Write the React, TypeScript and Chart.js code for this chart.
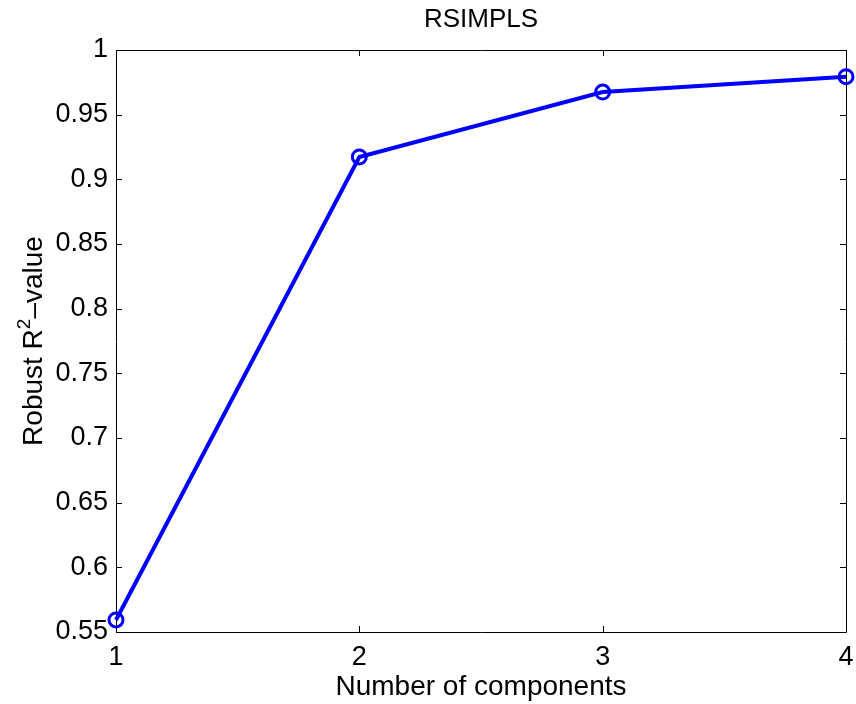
import React, { useEffect, useRef } from "react";
import { Chart, registerables } from "chart.js";

Chart.register(...registerables);

const components = [1, 2, 3, 4];
const robustR2 = [0.5593, 0.9173, 0.9675, 0.9794];
const yTicks = [0.55, 0.6, 0.65, 0.7, 0.75, 0.8, 0.85, 0.9, 0.95, 1];
const xTicks = [1, 2, 3, 4];
const titleText = "RSIMPLS";
const xLabel = "Number of components";
const yLabelMain = "Robust R";
const yLabelSup = "2";
const yLabelRest = "\u2013value";

const FONT = "'Liberation Sans', Arial, Helvetica, sans-serif";

const framePlugin = {
  id: "frame",
  beforeDatasetsDraw(chart: any) {
    const { ctx, chartArea: a, scales } = chart;
    const L = 6;
    ctx.save();
    ctx.strokeStyle = "#000";
    ctx.lineWidth = 1;
    ctx.beginPath();
    ctx.rect(Math.round(a.left) + 0.5, Math.round(a.top) + 0.5, Math.round(a.right - a.left), Math.round(a.bottom - a.top));
    ctx.stroke();
    ctx.beginPath();
    for (const v of yTicks) {
      const y = Math.round(scales.y.getPixelForValue(v)) + 0.5;
      ctx.moveTo(a.left, y);
      ctx.lineTo(a.left + L, y);
      ctx.moveTo(a.right, y);
      ctx.lineTo(a.right - L, y);
    }
    for (const v of xTicks) {
      const x = Math.round(scales.x.getPixelForValue(v)) + 0.5;
      ctx.moveTo(x, a.bottom);
      ctx.lineTo(x, a.bottom - L);
      ctx.moveTo(x, a.top);
      ctx.lineTo(x, a.top + L);
    }
    ctx.stroke();
    ctx.restore();
  },
  afterDraw(chart: any) {
    const { ctx, chartArea: a } = chart;
    ctx.save();
    ctx.fillStyle = "#000";
    ctx.font = `26px ${FONT}`;
    ctx.textAlign = "center";
    ctx.textBaseline = "alphabetic";
    ctx.fillText(titleText, (a.left + a.right) / 2, 27);
    ctx.font = `28px ${FONT}`;
    ctx.fillText(xLabel, (a.left + a.right) / 2, 695);
    ctx.translate(42, (a.top + a.bottom) / 2);
    ctx.rotate(-Math.PI / 2);
    ctx.font = `28px ${FONT}`;
    const w1 = ctx.measureText(yLabelMain).width;
    ctx.font = `19px ${FONT}`;
    const w2 = ctx.measureText(yLabelSup).width;
    ctx.font = `28px ${FONT}`;
    const w3 = ctx.measureText(yLabelRest).width;
    const total = w1 + w2 + w3;
    let x = -total / 2;
    ctx.textAlign = "left";
    ctx.fillText(yLabelMain, x, 0);
    x += w1;
    ctx.font = `19px ${FONT}`;
    ctx.fillText(yLabelSup, x, -12);
    x += w2;
    ctx.font = `28px ${FONT}`;
    ctx.fillText(yLabelRest, x, 0);
    ctx.restore();
  },
};

export default function App() {
  const ref = useRef<HTMLCanvasElement | null>(null);
  useEffect(() => {
    if (!ref.current) return;
    const chart = new Chart(ref.current, {
      type: "line",
      data: {
        datasets: [
          {
            data: components.map((c, i) => ({ x: c, y: robustR2[i] })),
            borderColor: "#0000ff",
            borderWidth: 4,
            pointRadius: 7,
            pointBorderWidth: 3,
            pointBorderColor: "#0000ff",
            pointBackgroundColor: "rgba(0,0,0,0)",
            pointHoverRadius: 7,
            fill: false,
            tension: 0,
            clip: false as any,
          },
        ],
      },
      options: {
        responsive: false,
        animation: false,
        events: [],
        layout: { padding: { top: 50, right: 7, left: 0, bottom: 0 } },
        plugins: { legend: { display: false }, tooltip: { enabled: false }, title: { display: false } },
        scales: {
          x: {
            type: "linear",
            min: 1,
            max: 4,
            grid: { display: false, drawTicks: false },
            border: { display: false },
            afterBuildTicks: (s: any) => {
              s.ticks = xTicks.map((v) => ({ value: v }));
            },
            afterFit: (s: any) => {
              s.height = 72;
              s.paddingLeft = 0;
              s.paddingRight = 0;
            },
            ticks: {
              color: "#000",
              font: { family: FONT, size: 27 },
              padding: 9,
              maxRotation: 0,
              autoSkip: false,
              callback: (v: any) => String(v),
            },
          },
          y: {
            type: "linear",
            min: 0.55,
            max: 1,
            grid: { display: false, drawTicks: false },
            border: { display: false },
            afterBuildTicks: (s: any) => {
              s.ticks = yTicks.map((v) => ({ value: v }));
            },
            afterFit: (s: any) => {
              s.width = 116;
              s.paddingTop = 0;
              s.paddingBottom = 0;
            },
            ticks: {
              color: "#000",
              font: { family: FONT, size: 27 },
              padding: 8,
              autoSkip: false,
              callback: (v: any) => String(Number(Number(v).toFixed(2))),
            },
          },
        },
      },
      plugins: [framePlugin],
    });
    return () => chart.destroy();
  }, []);
  return (
    <div style={{ position: "fixed", left: 0, top: 0, width: 856, height: 704, background: "#fff" }}>
      <canvas ref={ref} width={856} height={704} />
    </div>
  );
}
